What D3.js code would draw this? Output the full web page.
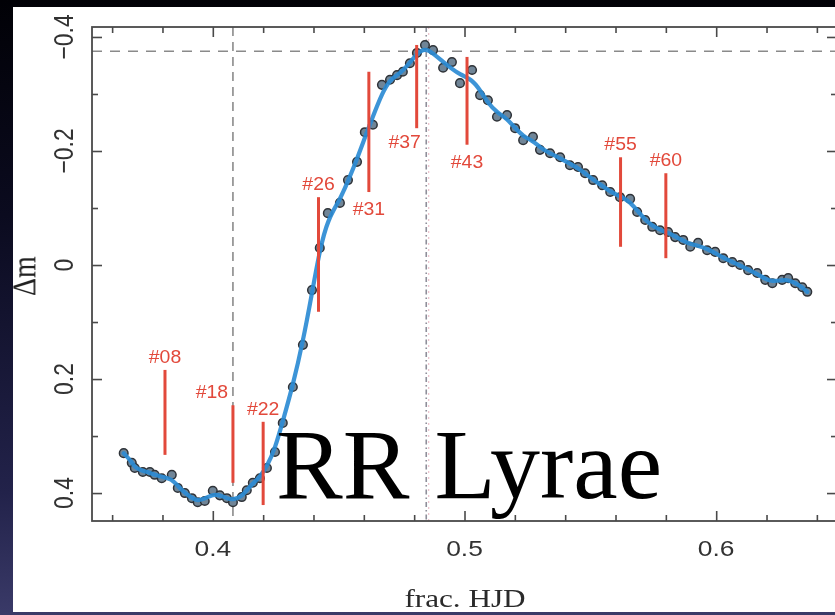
<!DOCTYPE html>
<html>
<head>
<meta charset="utf-8">
<script src="https://cdn.jsdelivr.net/npm/d3@7"></script>
<style>
  html, body { margin: 0; padding: 0; }
  body {
    width: 835px; height: 615px; overflow: hidden;
    background: linear-gradient(180deg, #010106 0%, #0b0b1f 35%, #22224a 80%, #3a3a68 100%);
  }
  svg { display: block; }
</style>
</head>
<body>
<svg id="chart" width="835" height="615"></svg>
<script>
// Light curve: fractional HJD vs. differential magnitude
const phase = [
  0.3646, 0.3678, 0.3690, 0.3722, 0.3750, 0.3769, 0.3797, 0.3837, 0.3861, 0.3889,
  0.3917, 0.3940, 0.3968, 0.4000, 0.4028, 0.4056, 0.4080, 0.4115, 0.4135, 0.4159,
  0.4187, 0.4215, 0.4247, 0.4278, 0.4318, 0.4358, 0.4394, 0.4425, 0.4457, 0.4505,
  0.4537, 0.4573, 0.4604, 0.4636, 0.4672, 0.4704, 0.4732, 0.4755, 0.4783, 0.4811,
  0.4843, 0.4875, 0.4915, 0.4950, 0.4982, 0.5030, 0.5062, 0.5093, 0.5129, 0.5169,
  0.5201, 0.5233, 0.5272, 0.5300, 0.5340, 0.5380, 0.5419, 0.5451, 0.5479, 0.5511,
  0.5547, 0.5579, 0.5618, 0.5658, 0.5686, 0.5718, 0.5746, 0.5777, 0.5809, 0.5837,
  0.5869, 0.5897, 0.5928, 0.5964, 0.5996, 0.6028, 0.6064, 0.6095, 0.6127, 0.6163,
  0.6195, 0.6223, 0.6262, 0.6286, 0.6314, 0.6342, 0.6362
];
const deltaMag = [
  0.330, 0.347, 0.356, 0.363, 0.363, 0.368, 0.374, 0.368, 0.391, 0.400,
  0.409, 0.416, 0.414, 0.396, 0.404, 0.409, 0.416, 0.407, 0.395, 0.382,
  0.374, 0.356, 0.328, 0.277, 0.214, 0.140, 0.044, -0.030, -0.091, -0.109,
  -0.149, -0.181, -0.233, -0.246, -0.316, -0.325, -0.333, -0.339, -0.354, -0.372,
  -0.386, -0.377, -0.346, -0.356, -0.319, -0.342, -0.298, -0.289, -0.260, -0.263,
  -0.240, -0.219, -0.225, -0.202, -0.196, -0.189, -0.175, -0.172, -0.161, -0.149,
  -0.140, -0.128, -0.119, -0.116, -0.093, -0.079, -0.067, -0.061, -0.058, -0.049,
  -0.044, -0.032, -0.039, -0.026, -0.023, -0.012, -0.005, 0.000, 0.009, 0.014,
  0.026, 0.032, 0.026, 0.023, 0.032, 0.039, 0.047
];

// Marked frames: frame id, phase, extent of the marker bar in Δm
const markerIds = ["#08", "#18", "#22", "#26", "#31", "#37", "#43", "#55", "#60"];
const markerPhase = [0.381, 0.408, 0.420, 0.442, 0.462, 0.481, 0.501, 0.562, 0.580];
const markerTop = [0.184, 0.246, 0.275, -0.119, -0.339, -0.386, -0.365, -0.189, -0.161];
const markerBottom = [0.333, 0.382, 0.421, 0.082, -0.128, -0.240, -0.211, -0.032, -0.012];
const markerLabelSide = ["above", "aboveLeft", "above", "above", "below", "belowLeft", "below", "above", "above"];

// Reference levels
const maxLightLevel = -0.375;
const minLightPhase = 0.408;
const maxLightPhase = 0.4848;

// Axes
const xDomain = [0.352, 0.648];
const yDomain = [-0.4175, 0.449];
const xTickValues = [0.4, 0.5, 0.6];
const xTickLabels = ["0.4", "0.5", "0.6"];
const xMinorTicks = [0.36, 0.38, 0.42, 0.44, 0.46, 0.48, 0.52, 0.54, 0.56, 0.58, 0.62, 0.64];
const yTickValues = [-0.4, -0.2, 0, 0.2, 0.4];
const yTickLabels = ["\u22120.4", "\u22120.2", "0", "0.2", "0.4"];
const yMinorTicks = [-0.3, -0.1, 0.1, 0.3];
const xTitle = "frac. HJD";
const yTitle = "\u0394m";
const title = "RR Lyrae";

const svg = d3.select("#chart");
const plot = { left: 92, right: 837, top: 27, bottom: 521 };

const x = d3.scaleLinear().domain(xDomain).range([plot.left, plot.right]);
const y = d3.scaleLinear().domain(yDomain).range([plot.top, plot.bottom]);

const defs = svg.append("defs");
defs.append("filter").attr("id", "soft")
  .attr("x", "-5%").attr("y", "-5%").attr("width", "110%").attr("height", "110%")
  .append("feGaussianBlur").attr("stdDeviation", 0.6);
defs.append("clipPath").attr("id", "plotClip")
  .append("rect").attr("x", plot.left).attr("y", plot.top)
  .attr("width", plot.right - plot.left).attr("height", plot.bottom - plot.top);

// White figure panel
svg.append("rect").attr("x", 13).attr("y", 7).attr("width", 822).attr("height", 605).attr("fill", "#ffffff");

const g = svg.append("g").attr("filter", "url(#soft)");
const inner = g.append("g").attr("clip-path", "url(#plotClip)");

// Dashed reference lines
inner.append("line")
  .attr("x1", plot.left).attr("x2", plot.right)
  .attr("y1", y(maxLightLevel)).attr("y2", y(maxLightLevel))
  .attr("stroke", "#8a8a8a").attr("stroke-width", 1.6).attr("stroke-dasharray", "10,8");
inner.append("line")
  .attr("x1", x(minLightPhase)).attr("x2", x(minLightPhase))
  .attr("y1", plot.top).attr("y2", plot.bottom)
  .attr("stroke", "#7a7a7a").attr("stroke-width", 1.4).attr("stroke-dasharray", "9,6");
inner.append("line")
  .attr("x1", x(maxLightPhase)).attr("x2", x(maxLightPhase))
  .attr("y1", plot.top).attr("y2", plot.bottom)
  .attr("stroke", "#8f8f9a").attr("stroke-width", 1.6).attr("stroke-dasharray", "5,3,1.5,3");
inner.append("line")
  .attr("x1", x(maxLightPhase) + 2.5).attr("x2", x(maxLightPhase) + 2.5)
  .attr("y1", plot.top).attr("y2", plot.bottom)
  .attr("stroke", "#e7b4c0").attr("stroke-width", 1).attr("stroke-dasharray", "2,4");

// Observed points
const pts = phase.map((p, i) => [p, deltaMag[i]]);
inner.append("g").selectAll("circle").data(pts).join("circle")
  .attr("cx", d => x(d[0])).attr("cy", d => y(d[1])).attr("r", 4.3)
  .attr("fill", "#6f8597").attr("stroke", "#2f3338").attr("stroke-width", 1.5);

// Fitted light curve: light 1-2-1 smoothing of the observations, drawn as a B-spline
const fit = pts.map((d, i) => {
  if (i === 0 || i === pts.length - 1) return d;
  return [d[0], 0.25 * pts[i - 1][1] + 0.5 * d[1] + 0.25 * pts[i + 1][1]];
});
inner.append("path").datum(fit)
  .attr("d", d3.line().x(d => x(d[0])).y(d => y(d[1])).curve(d3.curveBasis))
  .attr("fill", "none").attr("stroke", "#2a8bd4").attr("stroke-width", 4.2)
  .attr("stroke-linejoin", "round").attr("stroke-linecap", "round").attr("stroke-opacity", 0.92);

// Frame markers
const red = "#e2483a";
const markers = markerIds.map((id, i) => ({
  id, p: markerPhase[i], top: markerTop[i], bottom: markerBottom[i], side: markerLabelSide[i]
}));
inner.append("g").selectAll("line").data(markers).join("line")
  .attr("x1", d => x(d.p)).attr("x2", d => x(d.p))
  .attr("y1", d => y(d.top)).attr("y2", d => y(d.bottom))
  .attr("stroke", red).attr("stroke-width", 3);

g.append("g").selectAll("text").data(markers).join("text")
  .attr("transform", d => {
    let tx = x(d.p), ty;
    if (d.side === "above") ty = y(d.top) - 7;
    else if (d.side === "aboveLeft") { tx -= 21; ty = y(d.top) - 7; }
    else if (d.side === "below") ty = y(d.bottom) + 23;
    else { tx -= 12; ty = y(d.bottom) + 20; }
    return `translate(${tx},${ty}) scale(1.08,1)`;
  })
  .attr("text-anchor", "middle")
  .attr("font-family", "'Liberation Sans', Arial, sans-serif")
  .attr("font-size", 18).attr("fill", red)
  .text(d => d.id);

// Axes with inward ticks on all four sides
const axisColor = "#4a4a4a";
function styleAxis(sel) {
  sel.select(".domain").remove();
  sel.selectAll(".tick line").attr("stroke", axisColor).attr("stroke-width", 1.6);
  sel.selectAll(".tick text").remove();
}
g.append("g").attr("transform", `translate(0,${plot.bottom})`)
  .call(d3.axisBottom(x).tickValues(xTickValues).tickSize(-10)).call(styleAxis);
g.append("g").attr("transform", `translate(0,${plot.bottom})`)
  .call(d3.axisBottom(x).tickValues(xMinorTicks).tickSize(-6)).call(styleAxis);
g.append("g").attr("transform", `translate(0,${plot.top})`)
  .call(d3.axisTop(x).tickValues(xTickValues).tickSize(-10)).call(styleAxis);
g.append("g").attr("transform", `translate(0,${plot.top})`)
  .call(d3.axisTop(x).tickValues(xMinorTicks).tickSize(-6)).call(styleAxis);
g.append("g").attr("transform", `translate(${plot.left},0)`)
  .call(d3.axisLeft(y).tickValues(yTickValues).tickSize(-10)).call(styleAxis);
g.append("g").attr("transform", `translate(${plot.left},0)`)
  .call(d3.axisLeft(y).tickValues(yMinorTicks).tickSize(-6)).call(styleAxis);
g.append("g").attr("transform", `translate(${plot.right},0)`)
  .call(d3.axisRight(y).tickValues(yTickValues).tickSize(-10)).call(styleAxis);
g.append("g").attr("transform", `translate(${plot.right},0)`)
  .call(d3.axisRight(y).tickValues(yMinorTicks).tickSize(-6)).call(styleAxis);

g.append("rect")
  .attr("x", plot.left).attr("y", plot.top)
  .attr("width", plot.right - plot.left).attr("height", plot.bottom - plot.top)
  .attr("fill", "none").attr("stroke", axisColor).attr("stroke-width", 1.8);

// Tick labels
const labelFont = "'Liberation Sans', Arial, sans-serif";
g.append("g").selectAll("text").data(xTickValues).join("text")
  .attr("transform", d => `translate(${x(d)},${plot.bottom + 35}) scale(1.2,1)`)
  .attr("text-anchor", "middle").attr("font-family", labelFont)
  .attr("font-size", 22).attr("fill", "#333")
  .text((d, i) => xTickLabels[i]);
g.append("g").selectAll("text").data(yTickValues).join("text")
  .attr("transform", d => `translate(${plot.left - 19},${y(d)}) scale(1.2,1) rotate(-90)`)
  .attr("text-anchor", "middle").attr("font-family", labelFont)
  .attr("font-size", 23).attr("fill", "#333")
  .text((d, i) => yTickLabels[i]);

// Axis titles
g.append("text")
  .attr("transform", `translate(465,607) scale(1.2,1)`)
  .attr("text-anchor", "middle")
  .attr("font-family", "'Liberation Serif', 'Times New Roman', serif")
  .attr("font-size", 26).attr("fill", "#2a2a2a")
  .text(xTitle);
g.append("text")
  .attr("transform", `translate(35,276) scale(1.2,1) rotate(-90)`)
  .attr("text-anchor", "middle")
  .attr("font-family", "'Liberation Serif', 'Times New Roman', serif")
  .attr("font-size", 28).attr("fill", "#222")
  .text(yTitle);

// Title overlay
svg.append("text")
  .attr("x", 276).attr("y", 498)
  .attr("font-family", "'Liberation Serif', 'Times New Roman', serif")
  .attr("font-size", 100).attr("fill", "#000")
  .text(title);
</script>
</body>
</html>
